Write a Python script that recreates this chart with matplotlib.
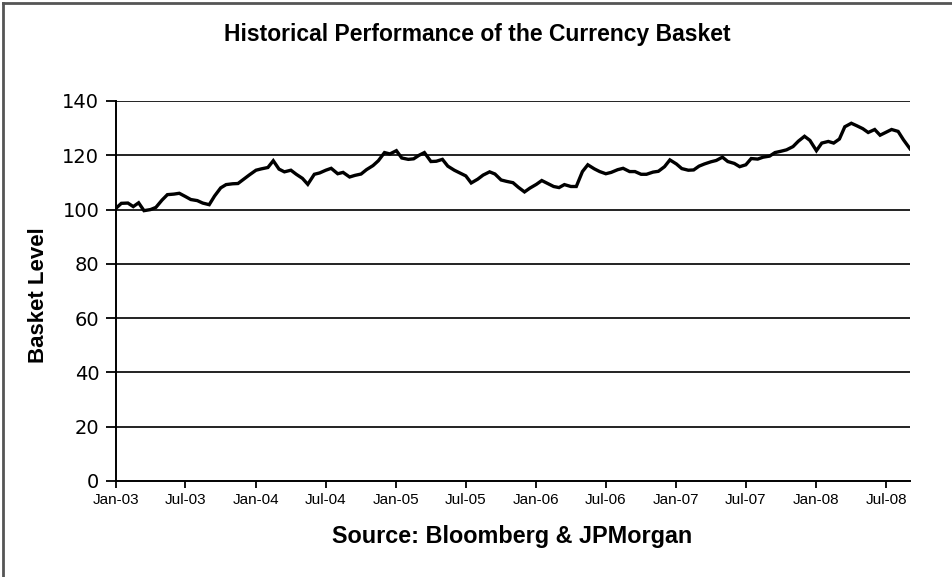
import matplotlib
matplotlib.use("Agg")
import matplotlib.pyplot as plt
from matplotlib.lines import Line2D
import pandas as pd
import datetime as dt

# ---- data (semi-monthly readings, Jan-2003 .. Sep-2008) ----
start_date = "2003-01-01"
basket_level = [
    100.5, 102.3, 102.4, 101.1, 102.5, 99.6, 100.0, 100.8, 103.5, 105.5,
    105.7, 106.0, 104.8, 103.7, 103.3, 102.4, 101.8, 105.0, 108.0, 109.2,
    109.5, 109.6, 111.3, 112.8, 114.5, 115.0, 115.5, 118.0, 114.9, 113.9,
    114.5, 113.0, 111.5, 109.3, 113.0, 113.5, 114.5, 115.2, 113.2, 113.7,
    112.0, 112.6, 113.1, 114.7, 116.2, 118.0, 121.0, 120.5, 121.7, 119.0,
    118.5, 118.7, 120.0, 121.0, 117.7, 117.8, 118.5, 116.0, 114.5, 113.5,
    112.4, 109.8, 111.2, 112.7, 113.9, 113.1, 110.9, 110.4, 109.9, 108.2,
    106.5, 107.9, 109.3, 110.7, 109.5, 108.5, 108.1, 109.2, 108.5, 108.5,
    114.0, 116.5, 115.0, 114.0, 113.2, 113.7, 114.7, 115.2, 114.0, 114.0,
    113.0, 113.0, 113.8, 114.1, 115.8, 118.3, 116.8, 115.1, 114.5, 114.6,
    116.0, 116.8, 117.6, 118.1, 119.3, 117.7, 117.0, 115.8, 116.5, 118.8,
    118.6, 119.3, 119.7, 121.0, 121.5, 122.0, 123.2, 125.2, 127.0, 125.5,
    121.7, 124.5, 125.1, 124.5, 126.0, 130.5, 131.8, 130.9, 129.8, 128.4,
    129.5, 127.4, 128.5, 129.5, 128.8, 125.7, 122.4,
]
dates = pd.date_range(start_date, periods=len(basket_level), freq="SMS")

tick_labels = ["Jan-03", "Jul-03", "Jan-04", "Jul-04", "Jan-05", "Jul-05",
               "Jan-06", "Jul-06", "Jan-07", "Jul-07", "Jan-08", "Jul-08"]
tick_dates = pd.date_range("2003-01-01", periods=len(tick_labels), freq="6MS")
y_ticks = [0, 20, 40, 60, 80, 100, 120, 140]

title = "Historical Performance of the Currency Basket"
y_label = "Basket Level"
x_label = "Source: Bloomberg & JPMorgan"

# ---- figure ----
fig = plt.figure(figsize=(9.52, 5.77), dpi=100)
ax = fig.add_axes([116 / 952, 1 - 481 / 577, (910 - 116) / 952, (481 - 101) / 577])

for yv in y_ticks[1:]:
    ax.axhline(yv, color="#222222", linewidth=1.4, zorder=1)

ax.plot(dates, basket_level, color="black", linewidth=2.4, zorder=3,
        solid_joinstyle="miter")

ax.set_ylim(0, 140)
ax.set_xlim(dt.datetime(2003, 1, 1), dates[-1])
ax.set_yticks(y_ticks)
ax.set_xticks(tick_dates)
ax.set_xticklabels(tick_labels)

for s in ["top", "right"]:
    ax.spines[s].set_visible(False)
for s in ["left", "bottom"]:
    ax.spines[s].set_color("black")
    ax.spines[s].set_linewidth(1.4)

ax.tick_params(axis="y", direction="out", length=7, width=1.3, pad=5,
               labelsize=14, colors="black")
ax.tick_params(axis="x", direction="out", length=5, width=1.3, pad=4,
               labelsize=11, colors="black")
for lab in ax.get_yticklabels():
    lab.set_family("DejaVu Sans")
for lab in ax.get_xticklabels():
    lab.set_family("Liberation Sans")

fig.text(477 / 952, 1 - 35 / 577, title, ha="center", va="center",
         fontsize=16.5, fontweight="bold", family="Liberation Sans")
fig.text(38 / 952, 1 - 295 / 577, y_label, ha="center", va="center", rotation=90,
         fontsize=16, fontweight="bold", family="Liberation Sans")
fig.text(512 / 952, 1 - 537 / 577, x_label, ha="center", va="center",
         fontsize=16.8, fontweight="bold", family="Liberation Sans")

# outer frame (left and top edges visible)
fig.add_artist(Line2D([3 / 952, 3 / 952], [0, 1 - 3 / 577], transform=fig.transFigure,
                      color="#555555", linewidth=2))
fig.add_artist(Line2D([3 / 952, 1], [1 - 3 / 577, 1 - 3 / 577], transform=fig.transFigure,
                      color="#555555", linewidth=2))

fig.savefig("out.png", dpi=100, facecolor="white")
